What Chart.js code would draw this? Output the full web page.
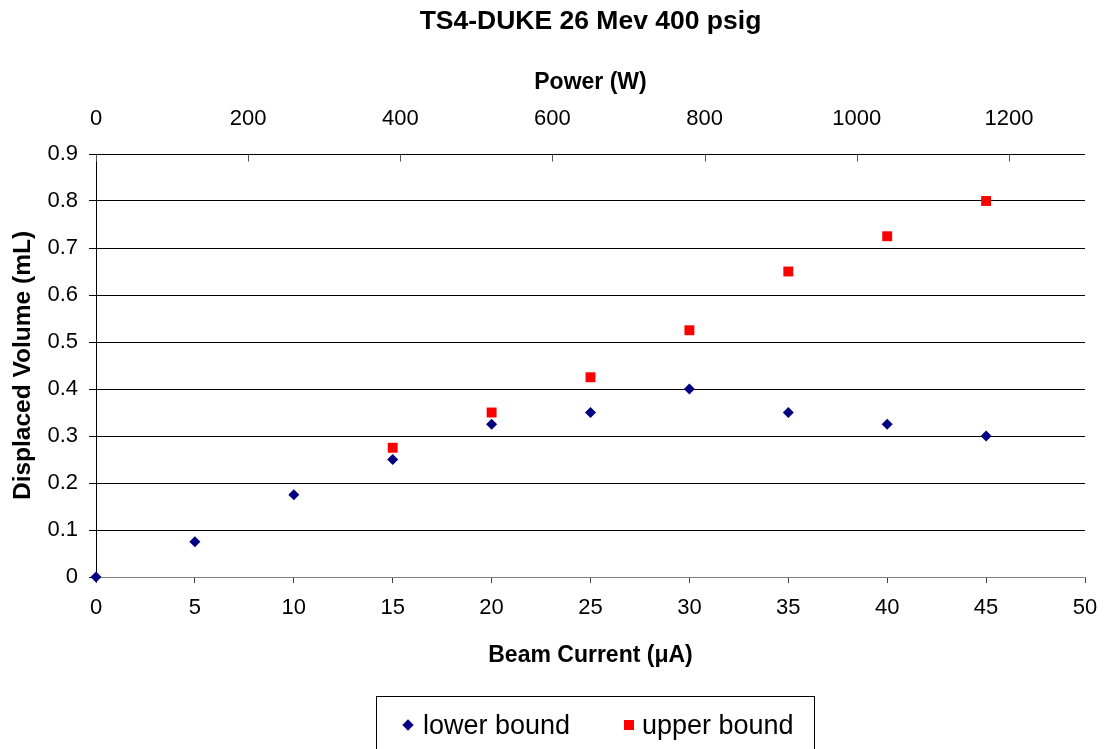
<!DOCTYPE html>
<html lang="en">
<head>
    <meta charset="UTF-8">
    <title>TS4-DUKE 26 Mev 400 psig</title>
    <script src="https://cdn.jsdelivr.net/npm/chart.js"></script>
    <style>
        body {
            margin: 0;
            background: #fff;
            font-family: 'Liberation Sans', Arial, sans-serif;
        }
        #wrap {
            position: relative;
            width: 1104px;
            height: 749px;
            overflow: hidden;
        }
        #legend {
            position: absolute;
            left: 376px;
            top: 696px;
            width: 439px;
            height: 80px;
            box-sizing: border-box;
            border: 1px solid #000;
            font-size: 27px;
            color: #000;
        }
        .item {
            position: absolute;
            top: 13px;
            height: 30px;
            line-height: 30px;
            display: flex;
            align-items: center;
            white-space: nowrap;
        }
        .mark {
            display: inline-block;
            width: 10px;
            height: 10px;
            margin-right: 8px;
        }
        .mark.diamond {
            width: 8px;
            height: 8px;
            transform: rotate(45deg);
            margin-left: 1px;
            margin-right: 11px;
        }
    </style>
</head>
<body>
    <div id="wrap">
        <canvas id="chart"></canvas>
        <div id="legend"></div>
    </div>

    <script>
        // beam current (uA) and displaced volume (mL)
        const currentLower = [0, 5, 10, 15, 20, 25, 30, 35, 40, 45];
        const lowerBound = [0, 0.075, 0.175, 0.25, 0.325, 0.35, 0.4, 0.35, 0.325, 0.3];
        const currentUpper = [15, 20, 25, 30, 35, 40, 45];
        const upperBound = [0.275, 0.35, 0.425, 0.525, 0.65, 0.725, 0.8];

        // 26 MeV beam: power axis goes to 50 uA * 26 = 1300 W
        const powerMax = 1300;

        const FONT = "'Liberation Sans', Arial, sans-serif";

        const toPoints = (xs, ys) => xs.map((x, i) => ({ x: x, y: ys[i] }));

        // small inward tick marks on the top (power) axis
        const topTicks = {
            id: 'topTicks',
            afterDraw(chart) {
                const s = chart.scales.x2;
                const ctx = chart.ctx;
                const top = Math.round(chart.chartArea.top) + 0.5;
                ctx.save();
                ctx.strokeStyle = '#555';
                ctx.lineWidth = 1;
                s.ticks.forEach(t => {
                    const px = Math.round(s.getPixelForValue(t.value)) + 0.5;
                    ctx.beginPath();
                    ctx.moveTo(px, top);
                    ctx.lineTo(px, top + 7);
                    ctx.stroke();
                });
                ctx.restore();
            }
        };

        // legend built from the datasets
        const htmlLegend = {
            id: 'htmlLegend',
            afterUpdate(chart) {
                const box = document.getElementById('legend');
                box.innerHTML = '';
                const offsets = [26, 247];
                chart.data.datasets.forEach((ds, i) => {
                    const item = document.createElement('div');
                    item.className = 'item';
                    item.style.left = offsets[i] + 'px';
                    const mark = document.createElement('span');
                    mark.className = 'mark' + (ds.pointStyle === 'rectRot' ? ' diamond' : '');
                    mark.style.background = ds.backgroundColor;
                    const text = document.createElement('span');
                    text.textContent = ds.label;
                    item.appendChild(mark);
                    item.appendChild(text);
                    box.appendChild(item);
                });
            }
        };

        // keep the horizontal axes from reserving room for their end labels
        const noSidePadding = s => { s.paddingLeft = 0; s.paddingRight = 0; };

        const ctx = document.getElementById('chart').getContext('2d');
        new Chart(ctx, {
            type: 'scatter',
            data: {
                datasets: [
                    {
                        label: 'lower bound',
                        data: toPoints(currentLower, lowerBound),
                        pointStyle: 'rectRot',
                        pointRadius: 5.5,
                        borderWidth: 0,
                        backgroundColor: '#000080',
                        borderColor: '#000080',
                        clip: false
                    },
                    {
                        label: 'upper bound',
                        data: toPoints(currentUpper, upperBound),
                        pointStyle: 'rect',
                        pointRadius: 7,
                        borderWidth: 0,
                        backgroundColor: '#ff0000',
                        borderColor: '#ff0000',
                        clip: false
                    }
                ]
            },
            options: {
                responsive: true,
                maintainAspectRatio: false,
                animation: false,
                events: [],
                layout: { padding: { top: 0, left: 0, right: 19, bottom: 72 } },
                plugins: {
                    legend: { display: false },
                    tooltip: { enabled: false },
                    title: {
                        display: true,
                        fullSize: false,
                        text: 'TS4-DUKE 26 Mev 400 psig',
                        color: '#000',
                        font: { family: FONT, size: 26.5, weight: 'bold' },
                        padding: { top: 6, bottom: 4.2 }
                    }
                },
                scales: {
                    x: {
                        type: 'linear',
                        position: 'bottom',
                        min: 0,
                        max: 50,
                        afterFit: s => { s.height = 100; noSidePadding(s); },
                        ticks: {
                            stepSize: 5,
                            color: '#000',
                            padding: 12,
                            maxRotation: 0,
                            font: { family: FONT, size: 22 }
                        },
                        grid: {
                            drawOnChartArea: false,
                            drawTicks: true,
                            tickLength: 6,
                            color: '#444'
                        },
                        border: { display: true, color: '#808080', width: 1 },
                        title: {
                            display: true,
                            text: 'Beam Current (\u03bcA)',
                            color: '#000',
                            font: { family: FONT, size: 23, weight: 'bold' },
                            padding: { top: 0, bottom: 8 }
                        }
                    },
                    x2: {
                        type: 'linear',
                        position: 'top',
                        min: 0,
                        max: powerMax,
                        afterFit: s => { s.height = 112; noSidePadding(s); },
                        ticks: {
                            stepSize: 200,
                            includeBounds: false,
                            color: '#000',
                            padding: 22,
                            maxRotation: 0,
                            font: { family: FONT, size: 22 },
                            callback: v => String(v)
                        },
                        grid: { display: false, drawTicks: false },
                        border: { display: false },
                        title: {
                            display: true,
                            text: 'Power (W)',
                            color: '#000',
                            font: { family: FONT, size: 23, weight: 'bold' },
                            padding: { top: 27, bottom: 0 }
                        }
                    },
                    y: {
                        type: 'linear',
                        min: 0,
                        max: 0.9,
                        afterFit: s => { s.width = 96; },
                        ticks: {
                            stepSize: 0.1,
                            color: '#000',
                            padding: 11,
                            font: { family: FONT, size: 22 }
                        },
                        grid: {
                            color: c => (c.tick && c.tick.value === 0 ? '#808080' : '#000'),
                            tickColor: '#000',
                            tickLength: 7,
                            lineWidth: 1
                        },
                        border: { display: true, color: '#000', width: 1 },
                        title: {
                            display: true,
                            text: 'Displaced Volume (mL)',
                            color: '#000',
                            font: { family: FONT, size: 24.5, weight: 'bold' },
                            padding: { top: 9, bottom: 0 }
                        }
                    }
                }
            },
            plugins: [topTicks, htmlLegend]
        });
    </script>
</body>
</html>
